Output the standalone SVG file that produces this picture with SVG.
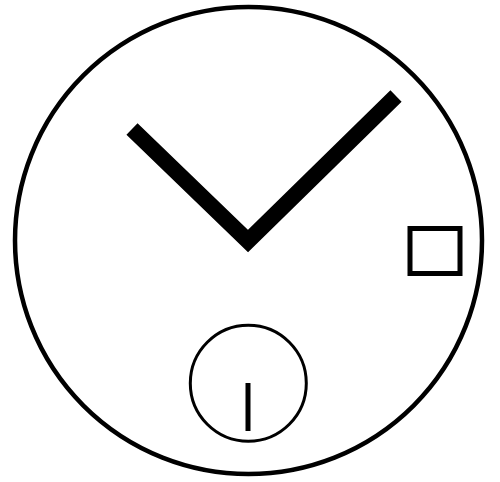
<svg xmlns="http://www.w3.org/2000/svg" width="500" height="482" viewBox="0 0 500 482">
<style>
.ln{fill:none;stroke:#000}
</style>
<rect width="500" height="482" fill="#fff"/>
<g id="dial"><circle class="ln" cx="248.5" cy="240.5" r="233.5" stroke-width="4.5"/></g>
<g id="hands"><polyline class="ln" points="132,129 248,241 396,96" stroke-width="16" stroke-linejoin="miter" stroke-linecap="butt"/></g>
<g id="date-window"><rect class="ln" x="410" y="228.5" width="50" height="45" stroke-width="5"/></g>
<g id="sub-dial"><circle class="ln" cx="248.3" cy="383.3" r="58" stroke-width="3"/>
<line class="ln" x1="248" y1="383" x2="248" y2="431" stroke-width="5"/></g>
</svg>
